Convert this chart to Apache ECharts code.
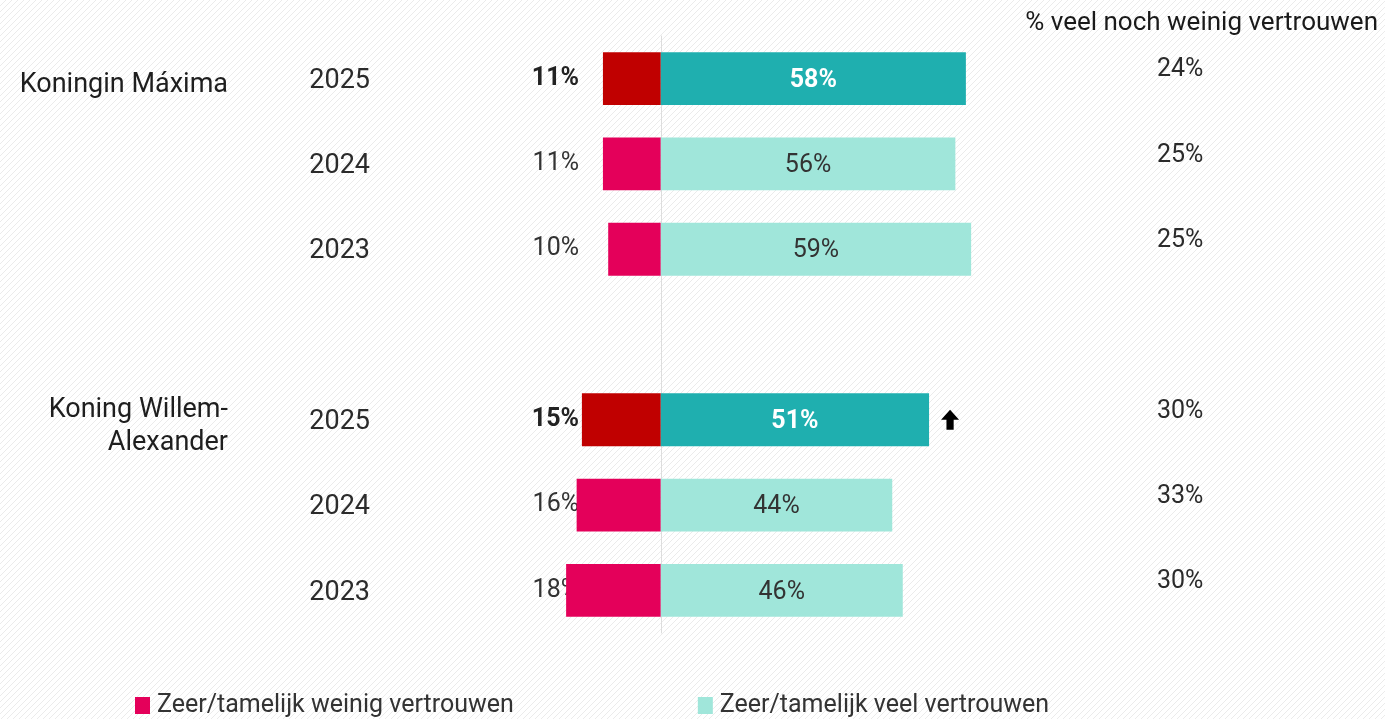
<!DOCTYPE html>
<html>
<head>
<meta charset="utf-8">
<script src="https://cdn.jsdelivr.net/npm/echarts@6/dist/echarts.min.js"></script>
<style>
  html, body { margin: 0; padding: 0; background: #fff; }
  #chart { width: 1385px; height: 719px; }
</style>
</head>
<body>
<div id="chart"></div>
<script>
// rows top to bottom, one empty row between the two people
const categories = ['M-2025', 'M-2024', 'M-2023', 'gap', 'WA-2025', 'WA-2024', 'WA-2023']
const yearLabels = ['2025', '2024', '2023', '', '2025', '2024', '2023']
const groupLabels = ['Koningin Máxima', '', '', '', 'Koning Willem-\nAlexander', '', '']
const weinig = [11, 11, 10, null, 15, 16, 18]    // zeer/tamelijk weinig vertrouwen
const veel = [58, 56, 59, null, 51, 44, 46]      // zeer/tamelijk veel vertrouwen
const neutraal = [24, 25, 25, null, 30, 33, 30]  // veel noch weinig vertrouwen
const significant = ['', '', '', '', 'up', '', '']

const seriesNames = ['Zeer/tamelijk weinig vertrouwen', 'Zeer/tamelijk veel vertrouwen']
const fontFamily = 'Roboto, "Noto Sans", sans-serif'
const isCurrent = i => yearLabels[i] === '2025'

// diagonal hatch background
const tile = document.createElement('canvas')
tile.width = 6
tile.height = 6
const ctx = tile.getContext('2d')
ctx.fillStyle = '#ffffff'
ctx.fillRect(0, 0, 6, 6)
ctx.strokeStyle = '#ebebeb'
ctx.lineWidth = 1
ctx.beginPath()
ctx.moveTo(-1, 7); ctx.lineTo(7, -1)
ctx.moveTo(-4, 4); ctx.lineTo(4, -4)
ctx.moveTo(2, 10); ctx.lineTo(10, 2)
ctx.stroke()

const chart = echarts.init(document.getElementById('chart'))

const baseY = {
  type: 'category',
  data: categories,
  inverse: true,
  gridIndex: 0,
  position: 'left',
  offset: 0,
  axisLine: { show: false },
  axisTick: { show: false },
  splitLine: { show: false }
}

chart.setOption({
  backgroundColor: { image: tile, repeat: 'repeat' },
  textStyle: { fontFamily },
  animation: false,
  title: {
    text: '% veel noch weinig vertrouwen',
    right: 2,
    top: 5,
    textStyle: { fontSize: 26, fontWeight: 'normal', color: '#1a1a1a', fontFamily }
  },
  legend: {
    data: seriesNames,
    left: 135,
    top: 693,
    padding: 0,
    icon: 'rect',
    itemWidth: 15,
    itemHeight: 17,
    itemGap: 184,
    textStyle: { fontSize: 25, color: '#333', fontFamily, padding: [0, 0, 0, 2] }
  },
  grid: { left: 503, right: 356, top: 36, bottom: 86, containLabel: false, outerBoundsMode: 'none' },
  xAxis: {
    type: 'value',
    min: -30,
    max: 70,
    show: false
  },
  yAxis: [
    Object.assign({}, baseY, {
      axisLine: { show: true, onZero: true, lineStyle: { color: '#dddddd', width: 1 } },
      axisLabel: {
        margin: 133,
        formatter: (v, i) => yearLabels[i] ? '{y|' + yearLabels[i] + '}' : '',
        rich: { y: { fontSize: 27, color: '#2b2b2b', padding: [5, 0, 0, 0] } }
      }
    }),
    Object.assign({}, baseY, {
      axisLabel: {
        margin: 275,
        align: 'right',
        formatter: (v, i) => groupLabels[i] ? '{g|' + groupLabels[i] + '}' : '',
        rich: { g: { fontSize: 27, lineHeight: 33, color: '#1e1e1e', align: 'right', padding: [14, 0, 0, 0] } }
      }
    }),
    Object.assign({}, baseY, {
      axisLabel: {
        margin: -76,
        fontSize: 25,
        color: '#333',
        formatter: (v, i) => {
          if (weinig[i] == null) return ''
          return isCurrent(i) ? '{b|' + weinig[i] + '%}' : weinig[i] + '%'
        },
        rich: { b: { fontSize: 25, fontWeight: 'bold', color: '#222' } }
      }
    }),
    Object.assign({}, baseY, {
      position: 'right',
      axisLabel: {
        margin: 128,
        formatter: (v, i) => neutraal[i] == null ? '' : '{n|' + neutraal[i] + '%}',
        rich: { n: { fontSize: 25, color: '#2b2b2b', padding: [0, 0, 17, 0] } }
      }
    })
  ],
  series: [
    {
      name: seriesNames[0],
      type: 'bar',
      stack: 'total',
      barWidth: '62%',
      itemStyle: { color: '#e4005a' },
      data: weinig.map((v, i) => v == null ? null : {
        value: -v,
        itemStyle: { color: isCurrent(i) ? '#c00000' : '#e4005a' }
      })
    },
    {
      name: seriesNames[1],
      type: 'bar',
      stack: 'total',
      barWidth: '62%',
      itemStyle: { color: '#a0e6da' },
      label: {
        show: true,
        position: 'inside',
        fontSize: 25,
        offset: [0, 2],
        formatter: p => p.value + '%'
      },
      data: veel.map((v, i) => v == null ? null : {
        value: v,
        itemStyle: { color: isCurrent(i) ? '#1fafaf' : '#a0e6da' },
        label: isCurrent(i)
          ? { color: '#ffffff', fontWeight: 'bold' }
          : { color: '#333333', fontWeight: 'normal' }
      })
    },
    {
      name: 'significant',
      type: 'scatter',
      symbol: 'path://M5,0 L10,6 L7,6 L7,12 L3,12 L3,6 L0,6 Z',
      symbolSize: [18, 20],
      symbolOffset: [21, 0],
      itemStyle: { color: '#000000', opacity: 1 },
      silent: true,
      data: significant.map((s, i) => s === 'up' ? [veel[i], i] : null).filter(d => d)
    }
  ]
})
</script>
</body>
</html>
